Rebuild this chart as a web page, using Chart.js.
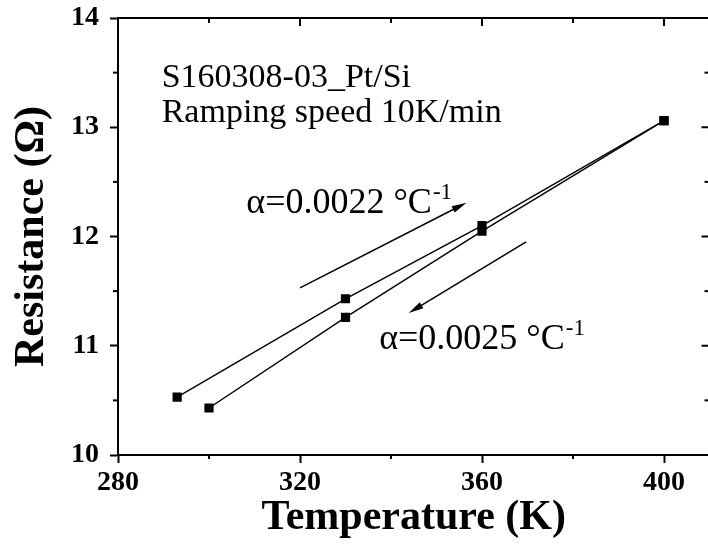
<!DOCTYPE html>
<html>
<head>
<meta charset="utf-8">
<script src="https://cdn.jsdelivr.net/npm/chart.js@4.4.1/dist/chart.umd.min.js"></script>
<style>
  html, body { margin: 0; padding: 0; background: #fff; overflow: hidden; }
  #wrap { width: 716px; height: 552px; }
</style>
</head>
<body>
<div id="wrap"><canvas id="chart" width="716" height="552"></canvas></div>
<script>
// heating run (upper branch)
const heatT = [293, 330, 360, 400];
const heatR = [10.53, 11.43, 12.10, 13.06];
// cooling run (lower branch)
const coolT = [400, 360, 330, 300];
const coolR = [13.06, 12.05, 11.26, 10.43];

const xMajor = [280, 320, 360, 400];
const xMinor = [300, 340, 380];
const yMajor = [10, 11, 12, 13, 14];
const yMinor = [10.5, 11.5, 12.5, 13.5];

// arrows in data units [x0, y0, x1, y1], head drawn at the end
const arrowHeat = [320, 11.53, 356.6, 12.31];
const arrowCool = [369.7, 11.95, 343.9, 11.30];

const sampleLines = ['S160308-03_Pt/Si', 'Ramping speed 10K/min'];
const alphaHeat = '0.0022';
const alphaCool = '0.0025';

const serif = '"Liberation Serif", "Times New Roman", serif';

function line(ctx, x0, y0, x1, y1) {
  ctx.beginPath();
  ctx.moveTo(x0, y0);
  ctx.lineTo(x1, y1);
  ctx.stroke();
}

function drawArrow(ctx, x, y, d) {
  const x0 = x.getPixelForValue(d[0]), y0 = y.getPixelForValue(d[1]);
  const x1 = x.getPixelForValue(d[2]), y1 = y.getPixelForValue(d[3]);
  const ang = Math.atan2(y1 - y0, x1 - x0);
  const len = 15, half = 3.5;
  const c = Math.cos(ang), s = Math.sin(ang);
  ctx.lineWidth = 1.5;
  line(ctx, x0, y0, x1 - c * len * 0.6, y1 - s * len * 0.6);
  ctx.beginPath();
  ctx.moveTo(x1, y1);
  ctx.lineTo(x1 - c * len - s * half, y1 - s * len + c * half);
  ctx.lineTo(x1 - c * len + s * half, y1 - s * len - c * half);
  ctx.closePath();
  ctx.fill();
}

function drawAlpha(ctx, px, py, value) {
  ctx.font = '36px ' + serif;
  const t = '\u03b1=' + value + ' \u00b0C';
  ctx.fillText(t, px, py);
  const w = ctx.measureText(t).width;
  ctx.font = '23px ' + serif;
  ctx.fillText('-1', px + w + 1, py - 14);
}

const frame = {
  id: 'frame',
  afterDraw(chart) {
    const { ctx, chartArea: a, scales: { x, y } } = chart;
    ctx.save();
    ctx.strokeStyle = '#000';
    ctx.fillStyle = '#000';
    ctx.lineWidth = 2;
    // top and right border
    ctx.beginPath();
    ctx.moveTo(a.left, a.top);
    ctx.lineTo(a.right, a.top);
    ctx.lineTo(a.right, a.bottom);
    ctx.stroke();

    xMajor.forEach(v => {
      const px = x.getPixelForValue(v);
      line(ctx, px, a.top, px, a.top + 8);
    });
    xMinor.forEach(v => {
      const px = x.getPixelForValue(v);
      line(ctx, px, a.top, px, a.top + 5);
      line(ctx, px, a.bottom, px, a.bottom + 4);
    });
    yMajor.forEach(v => {
      const py = y.getPixelForValue(v);
      line(ctx, a.right, py, a.right - 8, py);
    });
    yMinor.forEach(v => {
      const py = y.getPixelForValue(v);
      line(ctx, a.left - 5, py, a.left, py);
      line(ctx, a.right, py, a.right - 5, py);
    });

    drawArrow(ctx, x, y, arrowHeat);
    drawArrow(ctx, x, y, arrowCool);

    ctx.textAlign = 'left';
    ctx.textBaseline = 'alphabetic';
    ctx.font = '34px ' + serif;
    ctx.fillText(sampleLines[0], x.getPixelForValue(289.6), y.getPixelForValue(13.368));
    ctx.fillText(sampleLines[1], x.getPixelForValue(289.6), y.getPixelForValue(13.048));

    drawAlpha(ctx, x.getPixelForValue(308.2), y.getPixelForValue(12.215), alphaHeat);
    drawAlpha(ctx, x.getPixelForValue(337.4), y.getPixelForValue(10.97), alphaCool);
    ctx.restore();
  }
};

const seriesStyle = {
  borderColor: '#000',
  backgroundColor: '#000',
  borderWidth: 1.4,
  pointStyle: 'rect',
  pointRadius: 6.5,
  pointBorderWidth: 0,
  showLine: true,
  tension: 0
};

function noPad(s) {
  s.paddingTop = 0; s.paddingBottom = 0; s.paddingLeft = 0; s.paddingRight = 0;
}

new Chart(document.getElementById('chart'), {
  type: 'scatter',
  data: {
    datasets: [
      Object.assign({ label: 'Heating', data: heatT.map((t, i) => ({ x: t, y: heatR[i] })) }, seriesStyle),
      Object.assign({ label: 'Cooling', data: coolT.map((t, i) => ({ x: t, y: coolR[i] })) }, seriesStyle)
    ]
  },
  options: {
    responsive: false,
    animation: false,
    layout: { padding: { top: 18, right: 4, left: 0, bottom: 0 } },
    plugins: { legend: { display: false }, tooltip: { enabled: false } },
    scales: {
      x: {
        type: 'linear', min: 280, max: 410,
        afterBuildTicks: s => { s.ticks = xMajor.map(v => ({ value: v })); },
        afterFit: s => { s.height = 97; noPad(s); },
        border: { color: '#000', width: 2 },
        grid: { drawOnChartArea: false, tickLength: 8, tickWidth: 2, tickColor: '#000' },
        ticks: { color: '#000', padding: 3, maxRotation: 0, font: { family: serif, weight: 'bold', size: 28 } },
        title: { display: true, text: 'Temperature (K)', color: '#000',
                 font: { family: serif, weight: 'bold', size: 42 }, padding: { top: 0, bottom: 9 } }
      },
      y: {
        type: 'linear', min: 10, max: 14,
        afterBuildTicks: s => { s.ticks = yMajor.map(v => ({ value: v })); },
        afterFit: s => { s.width = 118; noPad(s); },
        border: { color: '#000', width: 2 },
        grid: { drawOnChartArea: false, tickLength: 8, tickWidth: 2, tickColor: '#000' },
        ticks: { color: '#000', padding: 11, font: { family: serif, weight: 'bold', size: 28 } },
        title: { display: true, text: 'Resistance (\u03a9)', color: '#000',
                 font: { family: serif, weight: 'bold', size: 42 }, padding: { top: 7, bottom: 0 } }
      }
    }
  },
  plugins: [frame]
});
</script>
</body>
</html>
